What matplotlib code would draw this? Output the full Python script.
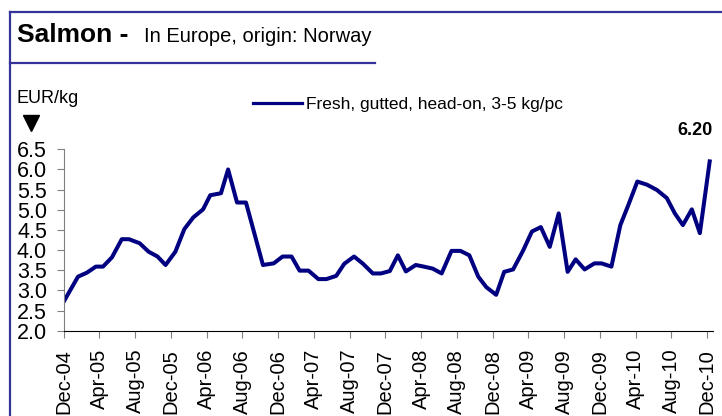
import matplotlib

matplotlib.use("Agg")
import matplotlib.pyplot as plt
from matplotlib.lines import Line2D

# observations: months after Dec-04, price EUR/kg
months_since_dec04 = [
    0.0, 1.6, 2.6, 3.6, 4.4, 5.4, 6.5, 7.3, 8.5, 9.5,
    10.5, 11.4, 12.5, 13.5, 14.5, 15.6, 16.4, 17.6, 18.4, 19.4,
    20.4, 22.3, 23.5, 24.5, 25.5, 26.4, 27.4, 28.5, 29.4, 30.5,
    31.4, 32.5, 33.5, 34.6, 35.5, 36.5, 37.4, 38.3, 39.4, 40.3,
    41.3, 42.3, 43.4, 44.4, 45.4, 46.4, 47.3, 48.4, 49.3, 50.3,
    51.4, 52.4, 53.4, 54.4, 55.4, 56.4, 57.3, 58.3, 59.4, 60.2,
    61.3, 62.3, 63.2, 64.2, 65.3, 66.4, 67.5, 68.4, 69.3, 70.3,
    71.2, 72.3,
]
price = [
    2.72, 3.34, 3.44, 3.59, 3.59, 3.82, 4.27, 4.27, 4.17, 3.96,
    3.84, 3.63, 3.96, 4.52, 4.81, 5.01, 5.36, 5.41, 6.00, 5.18,
    5.18, 3.63, 3.67, 3.84, 3.84, 3.49, 3.49, 3.28, 3.28, 3.36,
    3.66, 3.84, 3.66, 3.42, 3.42, 3.48, 3.87, 3.47, 3.63, 3.59,
    3.54, 3.42, 3.98, 3.98, 3.87, 3.34, 3.08, 2.89, 3.46, 3.52,
    3.98, 4.46, 4.57, 4.08, 4.91, 3.46, 3.77, 3.52, 3.67, 3.67,
    3.59, 4.62, 5.12, 5.70, 5.62, 5.49, 5.29, 4.91, 4.62, 5.01,
    4.42, 6.20,
]
tick_months = list(range(0, 73, 4))
tick_labels = [
    "Dec-04", "Apr-05", "Aug-05", "Dec-05", "Apr-06", "Aug-06", "Dec-06",
    "Apr-07", "Aug-07", "Dec-07", "Apr-08", "Aug-08", "Dec-08", "Apr-09",
    "Aug-09", "Dec-09", "Apr-10", "Aug-10", "Dec-10",
]
y_ticks = [2.0, 2.5, 3.0, 3.5, 4.0, 4.5, 5.0, 5.5, 6.0, 6.5]
series_name = "Fresh, gutted, head-on, 3-5 kg/pc"

plt.rcParams["font.family"] = ["Liberation Sans", "DejaVu Sans"]
navy = "#000080"
frame = "#333399"
W, H = 722, 416

fig = plt.figure(figsize=(W / 100, H / 100), dpi=100)
ax = fig.add_axes([63.7 / W, 1 - 330.7 / H, (713 - 63.7) / W, (330.7 - 149.3) / H])

line, = ax.plot(months_since_dec04, price, color=navy, lw=2.9,
                solid_joinstyle="round", label=series_name)
ax.set_xlim(0, 72.67)
ax.set_ylim(2.0, 6.5)
ax.set_yticks(y_ticks)
ax.set_yticklabels([f"{v:.1f}" for v in y_ticks], fontsize=15.5)
ax.set_xticks(tick_months)
ax.set_xticklabels(tick_labels, rotation=90, fontsize=14.5, va="top")
ax.tick_params(axis="y", length=5, color="#808080", pad=7)
ax.tick_params(axis="x", length=5, color="#808080", pad=8)
for s in ["top", "right"]:
    ax.spines[s].set_visible(False)
ax.spines["left"].set_color("#808080")
ax.spines["bottom"].set_color("black")

ax.annotate(f"{price[-1]:.2f}", xy=(months_since_dec04[-1], price[-1]),
            xytext=(2, 22), textcoords="offset points", ha="right", va="center",
            fontsize=13, fontweight="bold")

ax.legend(handles=[Line2D([], [], color=navy, lw=2.3)], labels=[series_name],
          loc="center left", bbox_to_anchor=(253 / W, 1 - 104.3 / H),
          bbox_transform=fig.transFigure, frameon=False, fontsize=12.5,
          handlelength=2.8, handletextpad=0.25, borderpad=0, borderaxespad=0)

# frame and title
fig.add_artist(Line2D([10 / W, 10 / W], [0, 1 - 11.7 / H], color=frame, lw=1.6))
fig.add_artist(Line2D([10 / W, 1], [1 - 11.7 / H, 1 - 11.7 / H], color=frame, lw=1.6))
fig.add_artist(Line2D([10 / W, 375 / W], [1 - 62.7 / H, 1 - 62.7 / H], color=frame, lw=1.6))
fig.text(16.7 / W, 1 - 42 / H, "Salmon -", fontsize=19, fontweight="bold", va="baseline")
fig.text(144 / W, 1 - 42 / H, "In Europe, origin: Norway", fontsize=14.5, va="baseline")
fig.text(16.7 / W, 1 - 102.7 / H, "EUR/kg", fontsize=13, va="baseline")
fig.add_artist(Line2D([30.5 / W], [1 - 122.7 / H], marker="v", markersize=11,
                      color="black", lw=0))

fig.savefig("out.png", dpi=100)
